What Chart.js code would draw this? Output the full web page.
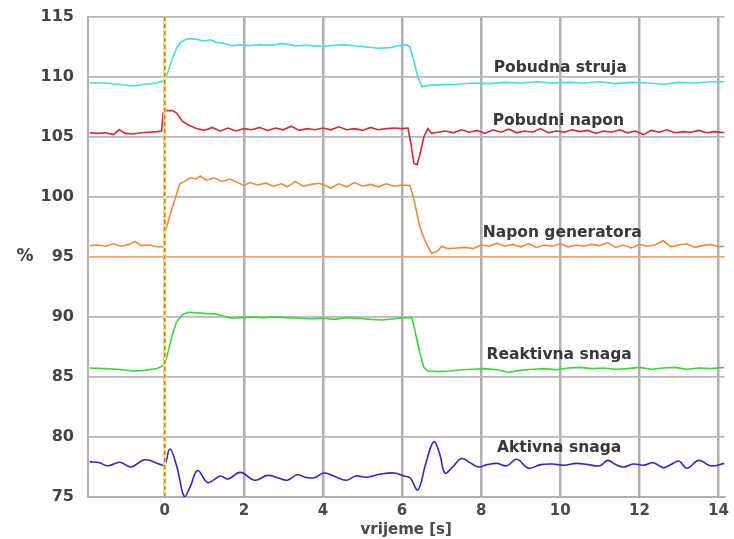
<!DOCTYPE html>
<html>
<head>
<meta charset="utf-8">
<title>Pobuda generatora</title>
<script src="https://cdn.jsdelivr.net/npm/chart.js@4.4.1/dist/chart.umd.min.js"></script>
<style>
  html, body { margin: 0; padding: 0; background: #fff; }
  canvas { display: block; }
</style>
</head>
<body>
<canvas id="chart" width="734" height="539"></canvas>
<script>
// [vrijeme s, %]
const pobudnaStruja = [
  [-1.9, 109.5], [-1.5, 109.5], [-1.2, 109.4], [-0.8, 109.25], [-0.5, 109.4], [-0.2, 109.5],
  [0.0, 109.7], [0.1, 110.6], [0.2, 111.6], [0.3, 112.4], [0.4, 112.9], [0.55, 113.15],
  [0.7, 113.2], [0.85, 113.1], [1.0, 113.0], [1.15, 113.1], [1.3, 112.9], [1.5, 112.8],
  [1.7, 112.6], [1.9, 112.7], [2.1, 112.6], [2.4, 112.7], [2.7, 112.65], [3.0, 112.8],
  [3.3, 112.6], [3.6, 112.65], [3.9, 112.55], [4.2, 112.6], [4.5, 112.7], [4.8, 112.6],
  [5.1, 112.5], [5.4, 112.4], [5.7, 112.45], [5.9, 112.6], [6.1, 112.7], [6.2, 112.5],
  [6.3, 111.3], [6.4, 110.0], [6.5, 109.2], [6.7, 109.3], [7.0, 109.35], [7.4, 109.4],
  [7.8, 109.5], [8.2, 109.45], [8.6, 109.55], [9.0, 109.5], [9.4, 109.6], [9.8, 109.5],
  [10.2, 109.55], [10.6, 109.5], [11.0, 109.6], [11.4, 109.45], [11.8, 109.55], [12.2, 109.5],
  [12.6, 109.4], [13.0, 109.55], [13.4, 109.5], [13.8, 109.6], [14.15, 109.6]
];

const pobudniNapon = [
  [-1.9, 105.35], [-1.7, 105.3], [-1.5, 105.35], [-1.3, 105.2], [-1.15, 105.6], [-1.0, 105.3],
  [-0.8, 105.25], [-0.6, 105.35], [-0.4, 105.4], [-0.2, 105.45], [-0.08, 105.5], [-0.04, 107.0],
  [0.0, 107.2], [0.2, 107.2], [0.3, 107.0], [0.45, 106.3], [0.6, 106.0], [0.8, 105.7],
  [1.0, 105.55], [1.2, 105.8], [1.4, 105.5], [1.6, 105.75], [1.8, 105.5], [2.0, 105.7],
  [2.2, 105.6], [2.4, 105.8], [2.6, 105.55], [2.8, 105.75], [3.0, 105.6], [3.2, 105.9],
  [3.4, 105.55], [3.6, 105.7], [3.8, 105.6], [4.0, 105.75], [4.2, 105.6], [4.4, 105.85],
  [4.6, 105.6], [4.8, 105.7], [5.0, 105.55], [5.2, 105.8], [5.4, 105.6], [5.6, 105.7],
  [5.8, 105.75], [6.0, 105.7], [6.15, 105.75], [6.22, 104.5], [6.3, 102.8], [6.38, 102.7],
  [6.45, 103.5], [6.55, 105.0], [6.65, 105.7], [6.75, 105.3], [6.9, 105.4], [7.1, 105.5],
  [7.3, 105.35], [7.5, 105.6], [7.7, 105.4], [7.9, 105.55], [8.1, 105.3], [8.3, 105.6],
  [8.5, 105.4], [8.7, 105.65], [8.9, 105.35], [9.1, 105.5], [9.3, 105.4], [9.5, 105.7],
  [9.7, 105.35], [9.9, 105.5], [10.1, 105.4], [10.3, 105.6], [10.5, 105.45], [10.7, 105.55],
  [10.9, 105.3], [11.1, 105.5], [11.3, 105.4], [11.5, 105.6], [11.7, 105.35], [11.9, 105.5],
  [12.1, 105.2], [12.3, 105.55], [12.5, 105.4], [12.7, 105.6], [12.9, 105.35], [13.1, 105.45],
  [13.3, 105.4], [13.5, 105.55], [13.7, 105.35], [13.9, 105.45], [14.15, 105.35]
];

const naponGeneratora = [
  [-1.9, 95.95], [-1.7, 96.0], [-1.5, 95.9], [-1.3, 96.1], [-1.1, 95.9], [-0.9, 96.05],
  [-0.75, 96.3], [-0.6, 95.95], [-0.4, 96.0], [-0.2, 95.85], [-0.05, 95.85], [0.0, 96.1],
  [0.02, 97.2], [0.2, 99.2], [0.38, 101.1], [0.5, 101.3], [0.65, 101.6], [0.8, 101.5],
  [0.9, 101.75], [1.05, 101.4], [1.25, 101.6], [1.45, 101.3], [1.65, 101.5], [1.85, 101.2],
  [2.0, 100.95], [2.15, 101.2], [2.35, 101.0], [2.55, 101.15], [2.75, 100.9], [2.95, 101.1],
  [3.1, 100.85], [3.3, 101.3], [3.5, 100.9], [3.7, 101.05], [3.9, 101.15], [4.05, 100.95],
  [4.2, 100.75], [4.4, 101.1], [4.6, 100.85], [4.8, 101.2], [5.0, 100.9], [5.2, 101.05],
  [5.4, 100.85], [5.6, 101.1], [5.8, 100.9], [6.0, 101.0], [6.2, 100.95], [6.3, 99.8],
  [6.45, 97.5], [6.6, 96.2], [6.75, 95.3], [6.9, 95.5], [7.0, 95.9], [7.15, 95.7],
  [7.4, 95.75], [7.6, 95.8], [7.8, 95.7], [8.0, 96.0], [8.2, 95.9], [8.4, 96.15],
  [8.6, 95.9], [8.8, 96.05], [9.0, 95.85], [9.2, 96.1], [9.4, 95.8], [9.6, 96.0],
  [9.8, 95.9], [10.0, 96.1], [10.2, 95.85], [10.4, 96.0], [10.6, 95.9], [10.8, 96.05],
  [11.0, 95.95], [11.2, 96.2], [11.4, 95.8], [11.6, 96.0], [11.8, 95.75], [12.0, 96.05],
  [12.2, 95.9], [12.4, 96.0], [12.6, 96.35], [12.8, 95.85], [13.0, 96.0], [13.2, 96.1],
  [13.4, 95.8], [13.6, 95.95], [13.8, 96.05], [14.0, 95.85], [14.15, 95.9]
];

const reaktivnaSnaga = [
  [-1.9, 85.75], [-1.5, 85.7], [-1.2, 85.65], [-0.8, 85.5], [-0.5, 85.55], [-0.2, 85.7],
  [0.0, 86.0], [0.1, 87.3], [0.2, 88.6], [0.3, 89.6], [0.45, 90.2], [0.6, 90.4],
  [0.8, 90.35], [1.0, 90.3], [1.3, 90.25], [1.5, 90.05], [1.7, 89.9], [1.9, 89.95],
  [2.2, 90.0], [2.5, 89.95], [2.8, 90.0], [3.1, 89.95], [3.4, 89.9], [3.7, 89.85],
  [4.0, 89.9], [4.3, 89.8], [4.6, 89.95], [4.9, 89.9], [5.2, 89.8], [5.5, 89.75],
  [5.8, 89.85], [6.1, 89.95], [6.25, 89.95], [6.35, 88.5], [6.45, 87.0], [6.55, 85.8],
  [6.65, 85.5], [6.9, 85.45], [7.2, 85.5], [7.5, 85.6], [7.8, 85.65], [8.1, 85.7],
  [8.4, 85.6], [8.7, 85.4], [9.0, 85.55], [9.3, 85.65], [9.6, 85.7], [9.9, 85.6],
  [10.2, 85.75], [10.5, 85.8], [10.8, 85.7], [11.1, 85.75], [11.4, 85.65], [11.7, 85.7],
  [12.0, 85.8], [12.3, 85.65], [12.6, 85.75], [12.9, 85.8], [13.2, 85.65], [13.5, 85.75],
  [13.8, 85.7], [14.15, 85.8]
];

const aktivnaSnaga = [
  [-1.9, 77.95], [-1.65, 77.85], [-1.44, 77.6], [-1.13, 77.9], [-0.86, 77.5], [-0.5, 78.1],
  [-0.1, 77.7], [0.0, 77.65], [0.13, 79.0], [0.3, 77.6], [0.5, 75.0], [0.65, 75.9],
  [0.83, 77.2], [1.08, 76.2], [1.25, 76.45], [1.41, 76.75], [1.6, 76.5], [1.91, 77.05],
  [2.27, 76.4], [2.6, 76.8], [2.85, 76.6], [3.1, 76.4], [3.35, 76.85], [3.55, 76.65],
  [3.78, 76.6], [4.03, 77.0], [4.3, 76.7], [4.6, 76.4], [4.83, 76.75], [5.1, 76.65],
  [5.44, 76.9], [5.8, 77.0], [6.05, 76.75], [6.2, 76.6], [6.4, 75.6], [6.6, 77.8],
  [6.8, 79.6], [6.95, 78.6], [7.08, 77.0], [7.25, 77.4], [7.5, 78.2], [7.7, 77.9],
  [7.93, 77.5], [8.15, 77.7], [8.4, 77.8], [8.65, 77.6], [8.9, 78.15], [9.2, 77.4],
  [9.5, 77.7], [9.8, 77.75], [10.1, 77.65], [10.4, 77.8], [10.7, 77.7], [11.0, 77.6],
  [11.2, 78.05], [11.4, 77.7], [11.6, 77.5], [11.85, 77.75], [12.1, 77.65], [12.35, 77.85],
  [12.6, 77.45], [12.8, 77.7], [13.0, 78.0], [13.2, 77.4], [13.5, 78.05], [13.8, 77.6],
  [14.15, 77.8]
];

// moment of the step change (t = 0), drawn over the full y range
const switchT = [0, 0];
const switchV = [75, 115];

const seriesNames = ['Pobudna struja', 'Pobudni napon', 'Napon generatora', 'Reaktivna snaga', 'Aktivna snaga'];
const xRange = [-1.94, 14.15];
const yRange = [75, 115];

const toXY = pts => pts.map(([x, y]) => ({ x, y }));

const FONT = '"DejaVu Sans", Verdana, sans-serif';

// text labels beside the curves, placed in data units
const curveLabels = {
  id: 'curveLabels',
  afterDatasetsDraw(chart) {
    const { ctx, scales: { x, y } } = chart;
    const anchors = [[10.0, 110.75], [9.95, 106.35], [10.05, 96.97], [9.97, 86.8], [9.97, 79.1]];
    ctx.save();
    ctx.font = 'bold 15.5px ' + FONT;
    ctx.fillStyle = '#383838';
    ctx.textAlign = 'center';
    ctx.textBaseline = 'middle';
    seriesNames.forEach((name, i) => {
      ctx.fillText(name, x.getPixelForValue(anchors[i][0]), y.getPixelForValue(anchors[i][1]));
    });
    // unrotated "%" axis label
    ctx.font = 'bold 17px ' + FONT;
    ctx.fillStyle = '#404040';
    ctx.fillText('%', 25, (chart.chartArea.top + chart.chartArea.bottom) / 2);
    ctx.restore();
  }
};

const line = (data, color, extra) => Object.assign({
  data: toXY(data),
  borderColor: color,
  borderWidth: 1.6,
  pointRadius: 0,
  tension: 0,
  fill: false
}, extra || {});

const switchPts = switchT.map((t, i) => [t, switchV[i]]);

new Chart(document.getElementById('chart'), {
  type: 'line',
  data: {
    datasets: [
      line(pobudnaStruja, '#44dde3', { label: seriesNames[0] }),
      line(pobudniNapon, '#d62a3c', { label: seriesNames[1] }),
      line(naponGeneratora, '#f08840', { label: seriesNames[2] }),
      line(reaktivnaSnaga, '#3cd63c', { label: seriesNames[3] }),
      line(aktivnaSnaga, '#2a2ac8', { label: seriesNames[4], tension: 0.4 }),
      line(switchPts, '#f7e68a', { borderWidth: 3, order: -1 }),
      line(switchPts, '#c07434', { borderWidth: 1.4, borderDash: [4, 3], order: -2 })
    ]
  },
  options: {
    responsive: false,
    devicePixelRatio: 1,
    animation: false,
    layout: { padding: { top: 17, right: 7, left: 0, bottom: 0 } },
    plugins: {
      legend: { display: false },
      tooltip: { enabled: false }
    },
    scales: {
      x: {
        type: 'linear',
        min: xRange[0],
        max: xRange[1],
        afterFit: s => { s.height = 42; },
        ticks: {
          stepSize: 2,
          includeBounds: false,
          padding: 5,
          color: '#4a4a4a',
          font: { family: FONT, size: 15, weight: 'bold' }
        },
        grid: { color: '#b0b0b0', lineWidth: 2.5, drawTicks: false },
        border: { color: '#b0b0b0', width: 2 },
        title: {
          display: true,
          text: 'vrijeme [s]',
          color: '#4a4a4a',
          padding: { top: 0, bottom: 0 },
          font: { family: FONT, size: 15, weight: 'bold' }
        }
      },
      y: {
        min: yRange[0],
        max: yRange[1],
        afterFit: s => {
          s.width = 88;
          s.paddingTop = 8;
          s.paddingBottom = 8;
        },
        ticks: {
          stepSize: 5,
          padding: 14,
          color: '#444',
          font: { family: FONT, size: 16, weight: 'bold' }
        },
        grid: {
          color: c => (c.tick && c.tick.value === 95 ? '#e8a878' : '#b8b8b8'),
          lineWidth: 1.8,
          drawTicks: false
        },
        border: { color: '#b0b0b0', width: 2 }
      }
    }
  },
  plugins: [curveLabels]
});
</script>
</body>
</html>
